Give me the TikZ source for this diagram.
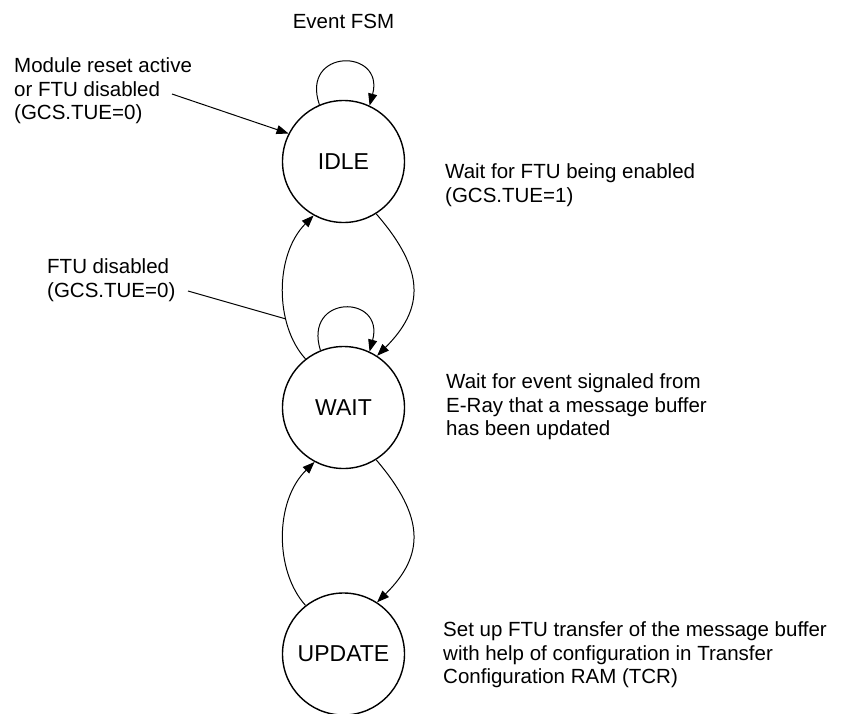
\documentclass[tikz,border=0pt]{standalone}
\usepackage{fontspec}
\setmainfont{Liberation Sans}
\usetikzlibrary{arrows.meta}
\begin{document}
\begin{tikzpicture}[x=1pt,y=-1pt,
  state/.style={circle,draw,line width=1.4pt,minimum size=122pt,inner sep=0pt,font=\fontsize{23}{26}\selectfont},
  lbl/.style={anchor=west,align=left,inner sep=0pt,font=\fontsize{20.5}{23.5}\selectfont},
  conn/.style={line width=1pt,-{Triangle[length=12pt,width=9pt]}},
  plain/.style={line width=1pt}]
\useasboundingbox (0,0) rectangle (846,713);
\fill[white] (0,0) rectangle (846,713);
% states
\node[state] (idle) at (343.5,161.5) {IDLE};
\node[state] (wait) at (343.5,407.5) {WAIT};
\node[state] (update) at (343.5,654) {UPDATE};
% title
\node[font=\fontsize{20.5}{23.5}\selectfont,inner sep=0pt] (title) at (343.5,21) {Event FSM};
% labels
\node[lbl] (reset) at (14,91) {Module reset active\\or FTU disabled\\(GCS.TUE=0)};
\node[lbl] (idledesc) at (445,185) {Wait for FTU being enabled\\(GCS.TUE=1)};
\node[lbl] (disabled) at (47,280) {FTU disabled\\(GCS.TUE=0)};
\node[lbl] (waitdesc) at (446,407) {Wait for event signaled from\\E-Ray that a message buffer\\has been updated};
\node[lbl] (updesc) at (443,655) {Set up FTU transfer of the message buffer\\with help of configuration in Transfer\\Configuration RAM (TCR)};
% connectors
\coordinate (rs) at (172,94);
\draw[conn] (rs) -- (idle.153.6);
\draw[conn] (idle.113.5) .. controls (300,48) and (385,48) .. (idle.65.6);
\draw[conn] (wait.112) .. controls (303,294) and (385,294) .. (wait.65.7);
\draw[conn] (idle.-58) .. controls (425,270) and (425,308) .. (wait.57);
\draw[conn] (wait.128) .. controls (274.5,325) and (274.5,255) .. coordinate[pos=0.31] (onleft) (idle.241);
\draw[conn] (wait.-58.5) .. controls (425,517) and (425,555) .. (update.57);
\draw[conn] (update.128) .. controls (274.5,571) and (274.5,501) .. (wait.242);
\coordinate (ds) at (188,291);
\draw[plain] (ds) -- (onleft);
\end{tikzpicture}
\end{document}
